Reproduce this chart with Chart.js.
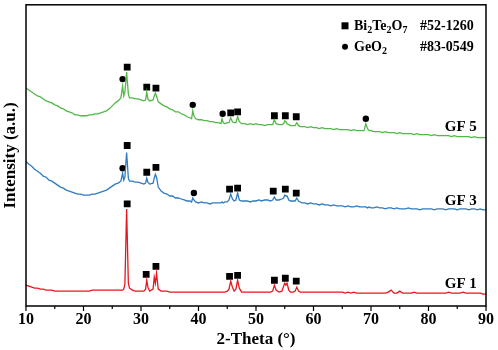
<!DOCTYPE html>
<html>
<head>
<meta charset="utf-8">
<script src="https://cdn.jsdelivr.net/npm/chart.js@4.4.1/dist/chart.umd.min.js"></script>
<style>
html,body{margin:0;padding:0;background:#fff;}
canvas{display:block;}
</style>
</head>
<body>
<canvas id="c" width="498" height="350"></canvas>
<script>
// 2-Theta grid (degrees)
const theta = [
  10,10.5,11,11.5,12,12.5,13,13.5,14,14.5,15,15.5,16,16.5,17,17.5,18,18.5,19,19.5,20,20.5,21,21.5,22,22.5,23,23.5,24,24.5,25,25.5,26,26.5,
  26.8,27.0,27.2,27.5,27.8,28.0,28.5,29,29.5,30,30.5,30.8,31.0,31.2,31.5,32.1,32.3,32.5,32.7,33.0,33.5,
  34,34.5,35,35.5,36,36.5,37,37.5,38,38.5,38.8,39.0,39.2,39.5,40,40.5,41,41.5,42,42.5,43,43.5,43.9,44.1,44.3,44.6,45.0,45.3,45.6,45.9,46.2,46.5,46.8,47.1,47.5,
  48,48.5,49,49.5,50,50.5,51,51.5,52,52.5,52.9,53.2,53.5,54,54.5,54.8,55.0,55.2,55.4,55.7,56,56.5,56.8,57.1,57.4,57.7,58,
  58.5,59,59.5,60,60.5,61,61.5,62,62.5,63,63.5,64,64.5,65,65.5,66,66.5,67,67.5,68,68.5,68.8,69.1,69.4,69.7,
  70,70.5,71,71.5,72,72.5,73,73.5,74,74.5,75,75.5,76,76.5,77,77.5,78,78.5,79,79.5,80,80.5,81,81.5,82,82.5,83,83.5,84,84.5,85,85.5,86,86.5,87,87.5,88,88.5,89,89.5,90
];
// Intensities (a.u., stacked offsets as in the figure)
const gf5 = [
  220,218,216,214,212,211,209,207,206,205,203,202,200,199,197,196,195,193,193,192,192,192,193,193,194,194,195,196,197,199,202,205,207,210,
  222,212,216,236,214,210,210,209,209,208,207,208,216,209,207,208,212,215,212,206,204,
  202,201,199,198,196,196,194,193,191,190,189,197,192,189,188,188,187,187,186,186,185,185,184,189,185,184,185,185,190,186,185,185,191,186,184,
  184,183,184,183,184,183,183,182,183,183,183,188,184,183,183,184,187,186,184,183,182,182,182,185,182,181,181,
  181,180,181,180,180,179,180,179,179,179,178,179,178,178,178,178,177,178,177,177,177,177,184,179,177,
  177,176,176,176,175,176,175,175,175,174,175,174,174,174,174,173,174,173,173,173,173,172,173,172,172,172,172,172,171,172,171,171,171,171,171,170,171,170,170,170,170
];
const gf3 = [
  146,143,141,138,136,134,131,130,127,126,124,122,120,119,117,116,115,114,113,113,112,112,112,113,113,114,115,116,117,119,121,123,124,126,
  134,127,130,155,129,126,126,125,125,124,123,124,129,125,123,124,129,133,130,120,116,
  114,113,111,111,109,109,108,107,106,106,105,109,107,105,104,105,104,104,103,104,104,104,104,105,104,105,105,107,113,108,106,107,114,107,106,
  106,106,105,106,106,107,106,107,107,106,107,110,107,107,108,109,112,111,111,107,106,106,106,109,106,105,104,
  104,103,104,103,103,102,103,102,102,101,102,101,101,101,100,101,100,100,101,100,100,100,100,99,100,
  99,99,100,99,99,98,99,99,98,99,98,98,98,99,98,98,98,97,98,98,98,98,97,98,98,98,97,98,98,98,97,98,98,98,97,98,98,97,98,97,97
];
const gf1 = [
  21,20,19,18,18,17,17,16,16,16,15,15,15,15,15,15,15,15,15,15,15,15,15,16,16,16,16,16,16,16,16,16,16,16,
  16,17,22,98,23,18,16,15,15,15,15,17,26,19,15,17,29,23,33,17,15,
  15,15,14,14,14,14,14,14,14,14,14,14,14,14,14,14,14,14,14,14,14,14,14,14,14,14,15,17,25,19,15,17,26,18,14,
  14,14,14,14,14,14,14,14,14,14,15,21,16,14,15,20,23,21,23,16,14,14,15,19,15,14,14,
  14,14,14,14,14,14,14,14,14,14,14,14,14,14,13,14,13,14,13,13,13,13,13,13,13,
  13,13,13,13,13,13,14,16,13,13,15,13,13,13,13,14,13,13,13,13,13,13,13,13,13,13,13,14,13,13,13,13,14,13,13,13,13,13,13,12,12
];
// Phase markers (Bi2Te2O7 squares, GeO2 circles)
const biTheta5 = [27.6,31.0,32.6,45.6,46.8,53.2,55.1,57.0];
const biY5     = [241,221,220,195,196,192,192,191];
const geTheta5 = [26.8,39.0,44.2,69.1];
const geY5     = [229,203,194,189];
const biTheta3 = [27.6,31.0,32.6,45.4,46.8,53.0,55.1,57.0];
const biY3     = [162,135,140,118,119,116,118,114];
const geTheta3 = [26.8,39.2];
const geY3     = [139,114];
const biTheta1 = [27.6,30.9,32.6,45.4,46.8,53.2,55.1,57.0];
const biY1     = [103,32,40,30,31,26,28,25];
// Sample labels
const sampleNames = ['GF 5','GF 3','GF 1'];
const sampleLabelY = [181,106,22];
const sampleLabelX = 88.4;
const xTicks = [10,20,30,40,50,60,70,80,90];

const FONT = "'Liberation Serif','Times New Roman',serif";
const pts = (xs, ys) => xs.map((x,i)=>({x:x, y:ys[i]}));

const lineDs = (label, ys, color) => ({
  label, data: pts(theta, ys), showLine: true, borderColor: color, borderWidth: 1.3,
  pointRadius: 0, fill: false, tension: 0
});
const markDs = (xs, ys, style, r) => ({
  data: pts(xs, ys), showLine: false, pointStyle: style, pointRadius: r,
  pointBackgroundColor: '#000', pointBorderColor: '#000', pointBorderWidth: 0
});

const decor = {
  id: 'decor',
  afterDraw(chart) {
    const ctx = chart.ctx, a = chart.chartArea;
    const xs = chart.scales.x, ys = chart.scales.y;
    ctx.save();
    // frame
    ctx.strokeStyle = '#000'; ctx.lineWidth = 1.5;
    ctx.strokeRect(a.left, a.top, a.right - a.left, a.bottom - a.top);
    // outward ticks on bottom axis
    ctx.lineWidth = 1.2;
    for (let v = 10; v <= 90; v += 5) {
      const px = xs.getPixelForValue(v);
      const len = (v % 10 === 0) ? 5 : 3;
      ctx.beginPath(); ctx.moveTo(px, a.bottom); ctx.lineTo(px, a.bottom + len); ctx.stroke();
    }
    // sample labels
    ctx.fillStyle = '#000';
    ctx.font = 'bold 15px ' + FONT;
    ctx.textAlign = 'right'; ctx.textBaseline = 'middle';
    sampleNames.forEach((n,i) => ctx.fillText(n, xs.getPixelForValue(sampleLabelX), ys.getPixelForValue(sampleLabelY[i])));
    // legend
    const lx = a.right - 141, ly1 = a.top + 21, ly2 = a.top + 42;
    ctx.fillRect(lx - 3.5, ly1 - 3.5, 7, 7);
    ctx.beginPath(); ctx.arc(lx, ly2, 3, 0, Math.PI*2); ctx.fill();
    ctx.textAlign = 'left'; ctx.textBaseline = 'alphabetic';
    const rich = (parts, x, y) => {
      parts.forEach(([t, sub]) => {
        ctx.font = sub ? 'bold 10px ' + FONT : 'bold 14px ' + FONT;
        ctx.fillText(t, x, y + (sub ? 3 : 0));
        x += ctx.measureText(t).width;
      });
    };
    rich([['Bi',0],['2',1],['Te',0],['2',1],['O',0],['7',1]], lx + 9, ly1 + 4.5);
    rich([['GeO',0],['2',1]], lx + 9, ly2 + 4.5);
    ctx.font = 'bold 14px ' + FONT;
    ctx.fillText('#52-1260', lx + 75, ly1 + 4.5);
    ctx.fillText('#83-0549', lx + 75, ly2 + 4.5);
    ctx.restore();
  }
};

new Chart(document.getElementById('c'), {
  type: 'scatter',
  data: {
    datasets: [
      lineDs('GF 1', gf1, '#e8161e'),
      lineDs('GF 3', gf3, '#2e7bc0'),
      lineDs('GF 5', gf5, '#52b848'),
      markDs(biTheta5, biY5, 'rect', 4.8),
      markDs(geTheta5, geY5, 'circle', 3.2),
      markDs(biTheta3, biY3, 'rect', 4.8),
      markDs(geTheta3, geY3, 'circle', 3.2),
      markDs(biTheta1, biY1, 'rect', 4.8)
    ]
  },
  options: {
    responsive: false, animation: false, devicePixelRatio: 1,
    layout: { padding: { top: 2, right: 9, left: 0, bottom: 0 } },
    plugins: { legend: { display: false }, tooltip: { enabled: false } },
    scales: {
      x: {
        type: 'linear', min: 10, max: 90,
        afterBuildTicks: s => { s.ticks = xTicks.map(v => ({ value: v })); },
        afterFit: s => { s.height = 44; },
        grid: { display: false, drawTicks: false },
        border: { display: false },
        ticks: { color: '#000', font: { family: FONT, weight: 'bold', size: 16 }, padding: 4, maxRotation: 0, autoSkip: false },
        title: { display: true, text: '2-Theta (°)', color: '#000', font: { family: FONT, weight: 'bold', size: 17 }, padding: 0 }
      },
      y: {
        type: 'linear', min: 0, max: 304,
        afterFit: s => { s.width = 26; },
        grid: { display: false, drawTicks: false },
        border: { display: false },
        ticks: { display: false },
        title: { display: true, text: 'Intensity (a.u.)', color: '#000', font: { family: FONT, weight: 'bold', size: 17 }, padding: 0 }
      }
    }
  },
  plugins: [decor]
});
</script>
</body>
</html>
